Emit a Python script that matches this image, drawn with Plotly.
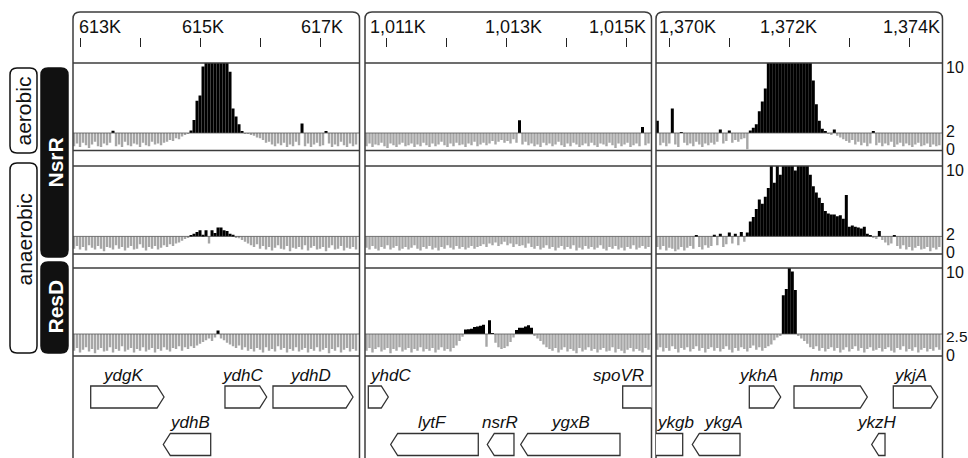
import plotly.graph_objects as go

W, H = 968, 458
FONT = "Liberation Sans, Arial, sans-serif"

# ---------------- data ----------------
WINDOW_START = [612883, 1010650, 1369778]      # genome coordinate at left edge of each window (bp)
WINDOW_SPAN = 4775                              # bp shown per window
PROBE_START = [612900, 1010675, 1369800]        # first probe in each window
PROBE_STEP = 50                                 # probe spacing (bp)

TICKS = [
    [613000, 614000, 615000, 616000, 617000],
    [1011000, 1012000, 1013000, 1014000, 1015000],
    [1370000, 1371000, 1372000, 1373000, 1374000],
]
TICK_LABELS = [
    ["613K", "615K", "617K"],
    ["1,011K", "1,013K", "1,015K"],
    ["1,370K", "1,372K", "1,374K"],
]
TICK_LABEL_POS = [
    [613333, 615050, 617041],
    [1011200, 1013117, 1014850],
    [1370295, 1371990, 1374036],
]

THRESHOLDS = [2, 2, 2.5]
SCALE_LABELS = [["10", "2", "0"], ["10", "2", "0"], ["10", "2.5", "0"]]
SCALE_VALUES = [[10, 2, 0], [10, 2, 0], [10, 2.5, 0]]

# ChIP enrichment per probe: aerobic NsrR
aer_nsrr_w1 = [
    0.5, 0.8, 0.4, 0.9, 0.6, 0.3, 0.7, 1.0, 0.5, 0.4, 0.8, 0.6, 0.9, 2.25, 0.5, 0.7, 0.4, 1.0, 0.6,
    0.5, 0.8, 0.7, 0.4, 0.9, 0.6, 0.5, 1.0, 0.7, 0.8, 0.6, 0.9, 1.0, 1.2, 1.1, 1.4, 1.3, 1.6, 1.8,
    1.9, 2.3, 3.5, 5.7, 6.3, 9.6, 12, 13, 14, 14, 15, 13, 12, 11, 9.0, 4.8, 3.9, 3.0, 2.2,
    1.95, 1.9, 1.8, 1.7, 1.5, 1.4, 1.2, 0.9, 1.0, 0.7, 0.5, 0.8, 0.6, 0.9, 0.4, 0.7, 0.5, 1.0, 0.6,
    3.1, 0.5, 0.8, 0.4, 0.7, 0.9, 0.5, 0.6, 2.2, 0.8, 0.4, 0.7, 0.5, 1.0, 0.6, 0.4, 0.8, 0.5, 0.7,
]
aer_nsrr_w2 = [
    0.5, 0.8, 0.4, 0.7, 0.6, 0.9, 0.5, 0.3, 0.8, 0.6, 0.4, 0.7, 0.9, 0.5, 0.6, 0.8, 0.4, 0.7, 0.5,
    0.9, 0.6, 0.4, 0.8, 0.5, 0.7, 1.0, 0.6, 0.4, 0.8, 0.5, 0.9, 0.6, 0.7, 0.4, 0.8, 0.6, 1.0, 0.5,
    0.7, 0.9, 0.6, 0.8, 1.1, 0.7, 1.0, 1.2, 0.9, 1.1, 0.8, 1.3, 0.9, 3.45, 0.7, 1.0, 0.6, 0.8, 0.5,
    0.7, 0.4, 0.9, 0.6, 0.8, 0.5, 0.7, 1.0, 0.6, 0.4, 0.8, 0.5, 0.9, 0.7, 0.4, 0.6, 0.8, 0.5, 0.9,
    0.6, 0.4, 0.8, 0.7, 0.5, 0.9, 0.6, 0.3, 0.8, 0.5, 0.7, 0.9, 0.4, 0.6, 0.8, 0.5, 2.7, 0.6, 0.8,
]
aer_nsrr_w3 = [
    3.4, 0.6, 0.9, 0.5, 0.8, 4.8, 0.7, 0.4, 2.1, 0.9, 0.6, 0.8, 0.5, 1.0, 0.7, 0.4, 0.8, 0.6, 0.9,
    0.7, 1.0, 2.4, 0.8, 1.1, 2.3, 0.9, 1.2, 1.0, 1.3, 1.4, 0.15, 2.3, 2.6, 3.0, 4.5, 5.6, 7.1, 10.5,
    12, 13, 14, 13, 15, 14, 13, 15, 14, 12, 13, 14, 12, 11, 8.0, 5.3, 3.4, 2.5, 2.2,
    1.9, 1.8, 2.4, 1.7, 1.5, 1.3, 1.1, 0.9, 1.2, 0.7, 1.0, 0.6, 0.9, 0.5, 0.8, 2.2, 0.6, 0.9, 0.5,
    0.8, 0.6, 1.0, 0.4, 0.7, 0.9, 0.5, 0.8, 0.6, 0.4, 0.7, 0.9, 0.5, 0.6, 0.8, 0.4, 0.7, 0.5, 0.6,
]

# anaerobic NsrR
ana_nsrr_w1 = [
    0.6, 0.9, 0.5, 0.8, 0.4, 1.0, 0.7, 0.5, 0.9, 0.6, 0.3, 0.8, 0.7, 0.5, 1.0, 0.6, 0.8, 0.4, 0.7,
    0.9, 0.5, 0.6, 1.1, 0.7, 0.4, 0.8, 0.6, 0.9, 0.5, 0.7, 1.0, 0.8, 1.1, 0.9, 1.2, 1.3, 1.5, 1.7,
    1.9, 2.1, 2.3, 2.5, 2.7, 2.2, 2.7, 1.2, 2.7, 2.4, 3.0, 3.0, 2.7, 2.6, 2.3, 2.2, 1.9, 1.8, 1.6,
    1.4, 1.2, 1.0, 0.8, 1.1, 0.6, 0.9, 0.5, 0.8, 0.4, 0.7, 1.0, 0.6, 0.5, 0.9, 0.3, 0.7, 0.6, 0.8,
    0.5, 1.0, 0.4, 0.7, 0.9, 0.5, 0.6, 0.8, 0.3, 0.7, 1.0, 0.5, 0.6, 0.9, 0.4, 0.7, 0.6, 0.8, 0.5,
]
ana_nsrr_w2 = [
    0.7, 0.5, 0.9, 0.6, 0.4, 0.8, 0.6, 1.0, 0.5, 0.7, 0.9, 0.4, 0.6, 0.8, 0.5, 0.7, 1.0, 0.6, 0.4,
    0.8, 0.6, 0.9, 0.5, 0.7, 0.4, 0.8, 0.6, 1.0, 0.7, 0.5, 0.9, 0.6, 0.8, 0.5, 0.7, 0.9, 0.6, 0.8,
    0.9, 1.1, 0.8, 1.2, 1.0, 1.3, 0.9, 1.1, 1.4, 1.0, 1.2, 0.8, 1.1, 0.9, 1.0, 0.7, 1.2, 0.8, 0.6,
    0.9, 0.5, 0.7, 1.0, 0.6, 0.8, 0.4, 0.7, 0.9, 0.5, 0.8, 0.6, 1.0, 0.4, 0.7, 0.5, 0.9, 0.6, 0.8,
    0.5, 0.7, 1.0, 0.6, 0.4, 0.8, 0.6, 0.9, 0.5, 0.7, 0.4, 0.8, 0.6, 1.0, 0.5, 0.7, 0.9, 0.6, 0.8,
]
ana_nsrr_w3 = [
    0.8, 0.5, 0.9, 0.4, 0.7, 0.6, 0.3, 0.5, 0.8, 0.4, 0.7, 0.9, 0.6, 2.1, 0.8, 0.5, 1.0, 0.7, 0.9,
    2.2, 1.0, 2.3, 0.8, 1.1, 2.45, 1.2, 2.3, 1.0, 2.5, 1.4, 2.45, 3.7, 4.2, 5.1, 6.2, 5.7, 6.5, 7.5,
    10.5, 8.1, 10.5, 9.0, 10.5, 10.5, 11, 11, 9.5, 10.5, 11, 10.5, 10.5, 9.0, 7.7, 7.0, 6.4, 5.8, 4.9,
    4.6, 4.5, 4.5, 4.3, 4.4, 4.0, 6.7, 3.1, 3.25, 3.1, 3.0, 2.9, 3.1, 2.3, 2.15, 1.9, 1.7, 2.6, 1.6,
    1.3, 1.0, 1.2, 2.15, 0.9, 0.6, 1.0, 0.5, 0.8, 0.4, 0.7, 0.9, 0.5, 0.6, 0.8, 0.3, 0.7, 0.5, 0.8,
]

# anaerobic ResD
ana_resd_w1 = [
    0.6, 0.9, 0.4, 0.7, 1.0, 0.5, 0.8, 0.3, 0.7, 0.9, 0.5, 0.6, 1.0, 0.4, 0.8, 0.6, 1.1, 0.5, 0.7,
    0.9, 0.4, 0.8, 0.6, 1.0, 0.5, 0.7, 0.9, 0.4, 0.8, 0.6, 1.0, 0.7, 0.5, 0.9, 0.8, 1.1, 0.6, 1.0,
    0.8, 1.1, 0.9, 1.2, 1.4, 1.6, 1.8, 2.0, 1.7, 2.1, 2.9, 2.0, 1.8, 1.5, 1.3, 1.1, 0.9, 1.2, 0.7,
    1.0, 0.6, 0.8, 0.5, 0.9, 0.7, 0.4, 1.0, 0.6, 0.8, 0.5, 1.1, 0.7, 0.9, 0.4, 0.8, 0.6, 1.0, 0.5,
    0.7, 0.9, 0.4, 0.8, 0.6, 1.0, 0.5, 0.7, 0.9, 0.3, 0.8, 0.6, 1.0, 0.4, 0.7, 0.9, 0.5, 0.8, 0.6,
]
ana_resd_w2 = [
    0.6, 0.9, 0.4, 0.8, 1.0, 0.5, 0.7, 0.9, 0.3, 0.8, 0.6, 1.0, 0.5, 0.7, 0.9, 0.4, 0.8, 0.6, 1.0,
    0.5, 0.8, 0.6, 0.9, 0.4, 0.7, 1.0, 0.6, 0.8, 0.5, 0.9, 1.2, 1.7, 2.2, 3.0, 3.05, 3.1, 3.3, 3.35,
    3.45, 3.55, 1.05, 4.05, 2.6, 1.5, 1.0, 0.8, 0.9, 1.1, 1.6, 2.1, 2.95, 3.2, 3.2, 3.35, 3.5, 3.2, 2.3,
    2.0, 1.7, 1.3, 1.0, 0.8, 0.6, 0.9, 0.4, 0.7, 1.0, 0.5, 0.8, 0.6, 0.3, 0.9, 0.5, 0.7, 1.0, 0.6,
    0.8, 0.4, 0.7, 0.9, 0.5, 0.6, 1.0, 0.4, 0.8, 0.6, 0.3, 0.7, 0.9, 0.5, 0.8, 0.6, 0.4, 0.9, 0.7,
]
ana_resd_w3 = [
    0.7, 1.0, 0.5, 0.9, 0.6, 1.1, 0.8, 0.4, 0.9, 0.7, 1.0, 0.5, 0.8, 1.1, 0.6, 0.9, 0.4, 0.8, 1.0,
    0.6, 0.9, 0.5, 0.8, 1.1, 0.7, 0.4, 0.9, 0.6, 1.0, 0.8, 0.5, 0.9, 1.2, 0.7, 1.0, 0.6, 0.9, 1.1,
    1.3, 1.8, 2.1, 2.3, 6.9, 7.6, 10.5, 9.6, 7.5, 2.3, 2.0, 1.7, 1.4, 1.0, 0.8, 1.1, 0.6, 0.9, 0.5,
    0.8, 1.0, 0.6, 0.9, 0.4, 0.7, 1.0, 0.5, 0.8, 1.1, 0.6, 0.9, 0.4, 0.8, 1.0, 0.6, 0.7, 0.9, 0.5,
    0.8, 1.0, 0.6, 0.4, 0.9, 0.7, 1.1, 0.5, 0.8, 0.6, 1.0, 0.4, 0.7, 0.9, 0.5, 0.8, 0.6, 1.0, 0.7,
]

TRACKS = [
    [aer_nsrr_w1, aer_nsrr_w2, aer_nsrr_w3],
    [ana_nsrr_w1, ana_nsrr_w2, ana_nsrr_w3],
    [ana_resd_w1, ana_resd_w2, ana_resd_w3],
]

# genes: window, name, start, end, strand, lane, label position
gene_window = [0, 0, 0, 0, 1, 1, 1, 1, 1, 2, 2, 2, 2, 2, 2]
gene_name = ["ydgK", "ydhB", "ydhC", "ydhD", "yhdC", "spoVR", "lytF", "nsrR", "ygxB",
             "ykgb", "ykgA", "ykhA", "hmp", "ykjA", "ykzH"]
gene_start = [613178, 614388, 615416, 616216, 1010705, 1014945, 1011078, 1012688, 1013245,
              1369400, 1370383, 1371333, 1372078, 1373733, 1373373]
gene_end = [614400, 615178, 616111, 617550, 1011038, 1015900, 1012538, 1013133, 1014900,
            1370223, 1371178, 1371856, 1373300, 1374473, 1373595]
gene_strand = ["+", "-", "+", "+", "+", "+", "-", "-", "-", "-", "-", "+", "+", "+", "-"]
gene_lane = [0, 1, 0, 0, 0, 0, 1, 1, 1, 1, 1, 0, 0, 0, 1]
gene_label_x = [613708, 614833, 615716, 616833, 1011067, 1014872, 1011783, 1012900, 1014067,
                1370095, 1370900, 1371478, 1372623, 1374023, 1373466]

# ---------------- layout geometry (pixels) ----------------
COL_PX = [(73, 359.5), (365, 651.5), (656, 942.5)]
ROW_PX = [(63, 150.5), (166, 254), (268, 356)]
GENE_PX = (356, 458)
LANE_PX = 47.5          # pixels between gene lanes
LANE0_PX = 397          # centre of first gene lane
BLACK = "#000000"
GREY = "#a6a6a6"
EDGE = "#3c3c3c"


def px(x):
    return x / W


def py(y):
    return 1 - y / H


def axname(prefix, i):
    return prefix if i == 1 else f"{prefix}{i}"


fig = go.Figure()

# enrichment bars: black above threshold, grey below
for r, row in enumerate(TRACKS):
    thr = THRESHOLDS[r]
    for c, vals in enumerate(row):
        xs = [PROBE_START[c] + i * PROBE_STEP for i in range(len(vals))]
        above = [v > thr for v in vals]
        fig.add_trace(go.Bar(
            x=xs, y=[v - thr for v in vals], base=thr,
            width=[PROBE_STEP if a else 40 for a in above],
            marker=dict(color=[BLACK if a else GREY for a in above], line=dict(width=0)),
            xaxis=axname("x", c + 1), yaxis=axname("y", r + 1),
            showlegend=False, hoverinfo="skip",
        ))

# empty traces so the gene lanes exist as subplots in every window
for c in range(3):
    fig.add_trace(go.Scatter(x=[None], y=[None], xaxis=axname("x", c + 1), yaxis="y4",
                             showlegend=False, hoverinfo="skip"))

layout = dict(
    width=W, height=H, margin=dict(l=0, r=0, t=0, b=0),
    paper_bgcolor="white", plot_bgcolor="rgba(0,0,0,0)",
    barmode="overlay", showlegend=False,
    font=dict(family=FONT, color="#111"),
)

for c in range(3):
    layout["xaxis" if c == 0 else f"xaxis{c+1}"] = dict(
        domain=[px(COL_PX[c][0]), px(COL_PX[c][1])],
        range=[WINDOW_START[c], WINDOW_START[c] + WINDOW_SPAN],
        anchor="free", position=py(47), side="top",
        showgrid=False, zeroline=False, showline=False,
        tickvals=TICKS[c], ticks="outside", ticklen=9, tickwidth=1.3, tickcolor="#222",
        showticklabels=False, fixedrange=True,
    )

for r in range(3):
    top, bot = ROW_PX[r]
    layout["yaxis" if r == 0 else f"yaxis{r+1}"] = dict(
        domain=[py(bot), py(top)], range=[0, 10], visible=False, fixedrange=True, anchor="x",
    )

lane_top = (GENE_PX[0] - LANE0_PX) / LANE_PX
lane_bot = (GENE_PX[1] - LANE0_PX) / LANE_PX
layout["yaxis4"] = dict(domain=[py(GENE_PX[1]), py(GENE_PX[0])], range=[lane_bot, lane_top],
                        visible=False, fixedrange=True, anchor="x")

shapes = []
annotations = []

# threshold baselines
for r in range(3):
    for c in range(3):
        shapes.append(dict(type="line", xref=axname("x", c + 1), yref=axname("y", r + 1),
                           x0=WINDOW_START[c], x1=WINDOW_START[c] + WINDOW_SPAN,
                           y0=THRESHOLDS[r], y1=THRESHOLDS[r],
                           line=dict(color="#555", width=0.8), layer="above"))

# horizontal track frames
for c in range(3):
    x0, x1 = COL_PX[c]
    for top, bot in ROW_PX:
        for yy in (top, bot):
            shapes.append(dict(type="line", xref="paper", yref="paper",
                               x0=px(x0), x1=px(x1), y0=py(yy), y1=py(yy),
                               line=dict(color=EDGE, width=1.4)))

# window outlines with rounded top corners
RAD = 7
for c in range(3):
    x0, x1 = COL_PX[c]
    y0, yb = 12, H + 5
    path = (f"M {px(x0)},{py(yb)} L {px(x0)},{py(y0 + RAD)} "
            f"Q {px(x0)},{py(y0)} {px(x0 + RAD)},{py(y0)} "
            f"L {px(x1 - RAD)},{py(y0)} Q {px(x1)},{py(y0)} {px(x1)},{py(y0 + RAD)} "
            f"L {px(x1)},{py(yb)}")
    shapes.append(dict(type="path", xref="paper", yref="paper", path=path,
                       line=dict(color=EDGE, width=1.5), fillcolor="rgba(0,0,0,0)"))


def rounded_box(x0, y0, x1, y1, rad, fill):
    p = (f"M {px(x0 + rad)},{py(y0)} L {px(x1 - rad)},{py(y0)} "
         f"Q {px(x1)},{py(y0)} {px(x1)},{py(y0 + rad)} L {px(x1)},{py(y1 - rad)} "
         f"Q {px(x1)},{py(y1)} {px(x1 - rad)},{py(y1)} L {px(x0 + rad)},{py(y1)} "
         f"Q {px(x0)},{py(y1)} {px(x0)},{py(y1 - rad)} L {px(x0)},{py(y0 + rad)} "
         f"Q {px(x0)},{py(y0)} {px(x0 + rad)},{py(y0)} Z")
    return dict(type="path", xref="paper", yref="paper", path=p,
                line=dict(color="#111", width=1.5), fillcolor=fill, layer="above")


# condition / regulator side labels
side_boxes = [
    ("aerobic", 10, 68, 37, 153, "white", "#111", False, 111),
    ("anaerobic", 10, 163, 37, 353, "white", "#111", False, 240),
    ("NsrR", 41, 68, 68, 257, "#111", "white", True, 163),
    ("ResD", 41, 262, 68, 353, "#111", "white", True, 307),
]
for text, x0, y0, x1, y1, fill, tcol, bold, ty in side_boxes:
    shapes.append(rounded_box(x0, y0, x1, y1, 7, fill))
    annotations.append(dict(xref="paper", yref="paper", x=px((x0 + x1) / 2), y=py(ty),
                            text=f"<b>{text}</b>" if bold else text, textangle=-90,
                            showarrow=False, xanchor="center", yanchor="middle",
                            font=dict(size=21, color=tcol, family=FONT)))

# coordinate labels above tick marks
for c in range(3):
    for lab, pos in zip(TICK_LABELS[c], TICK_LABEL_POS[c]):
        annotations.append(dict(xref=axname("x", c + 1), yref="paper", x=pos, y=py(27),
                                text=lab, showarrow=False, xanchor="center", yanchor="middle",
                                font=dict(size=18, color="#111", family=FONT)))

# scale labels at right
SCALE_SHIFT = [[-4, 2, 1.5], [-4, 2.5, 2], [-4, -1.5, 1.5]]
for r in range(3):
    for lab, val, sh in zip(SCALE_LABELS[r], SCALE_VALUES[r], SCALE_SHIFT[r]):
        annotations.append(dict(xref="paper", yref=axname("y", r + 1), x=px(944.5), y=val,
                                yshift=sh, text=lab, showarrow=False,
                                xanchor="left", yanchor="middle", height=12, borderpad=0,
                                font=dict(size=16 if len(lab) < 3 else 15.5, color="#111",
                                          family=FONT)))

# gene arrows
HALF = 11 / LANE_PX
TIP = 117
for i in range(len(gene_name)):
    c = gene_window[i]
    s, e, lane = gene_start[i], gene_end[i], gene_lane[i]
    top, bot = lane - HALF, lane + HALF
    if gene_strand[i] == "+":
        t = max(s, e - TIP)
        pts = [(s, top), (t, top), (e, lane), (t, bot), (s, bot)]
    else:
        t = min(e, s + TIP)
        pts = [(e, top), (t, top), (s, lane), (t, bot), (e, bot)]
    path = "M " + " L ".join(f"{x},{y}" for x, y in pts) + " Z"
    shapes.append(dict(type="path", xref=axname("x", c + 1), yref="y4", path=path,
                       line=dict(color="#333", width=1.3), fillcolor="white"))
    annotations.append(dict(xref=axname("x", c + 1), yref="y4", x=gene_label_x[i], y=lane - 0.46,
                            text=f"<i>{gene_name[i]}</i>", showarrow=False,
                            xanchor="center", yanchor="middle",
                            font=dict(size=17, color="#111", family=FONT)))

layout["shapes"] = shapes
layout["annotations"] = annotations
fig.update_layout(**layout)

fig.write_html("out.html")
